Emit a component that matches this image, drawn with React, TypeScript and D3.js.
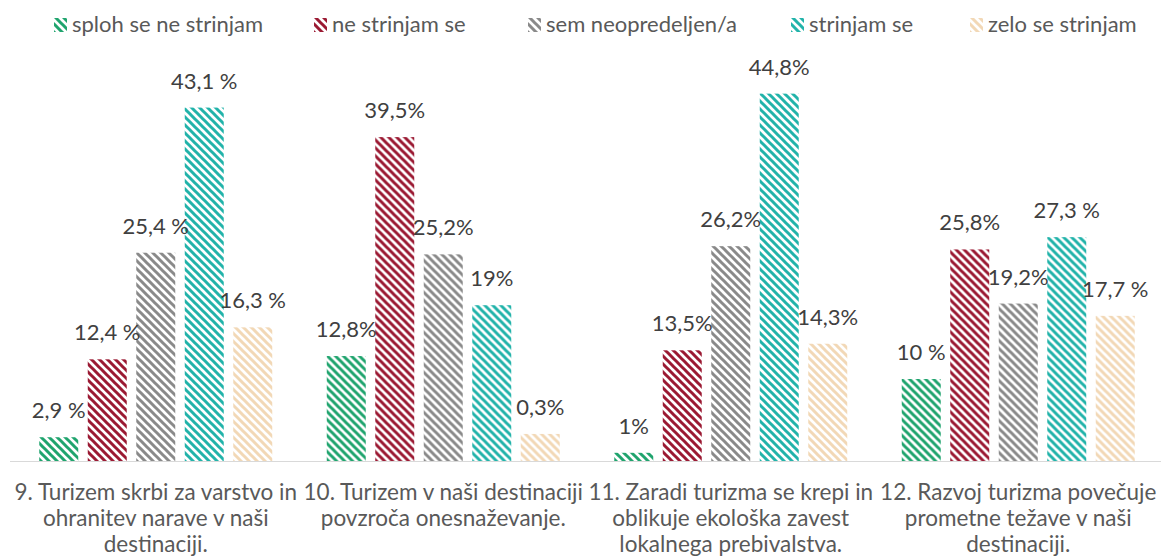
import React from "react";
import * as d3 from "d3";

const seriesNames = ["sploh se ne strinjam", "ne strinjam se", "sem neopredeljen/a", "strinjam se", "zelo se strinjam"];
const seriesColors = ["#20a46e", "#9b1a33", "#8a8a8a", "#22b3aa", "#f2d8b6"];

const categoryLines = [
  ["9. Turizem skrbi za varstvo in", "ohranitev narave v naši", "destinaciji."],
  ["10. Turizem v naši destinaciji", "povzroča onesnaževanje."],
  ["11. Zaradi turizma se krepi in", "oblikuje ekološka zavest", "lokalnega prebivalstva."],
  ["12. Razvoj turizma povečuje", "prometne težave v naši", "destinaciji."],
];

const values = [
  [2.9, 12.4, 25.4, 43.1, 16.3],
  [12.8, 39.5, 25.2, 19, 3.3],
  [1, 13.5, 26.2, 44.8, 14.3],
  [10, 25.8, 19.2, 27.3, 17.7],
];

const valueLabels = [
  ["2,9 %", "12,4 %", "25,4 %", "43,1 %", "16,3 %"],
  ["12,8%", "39,5%", "25,2%", "19%", "0,3%"],
  ["1%", "13,5%", "26,2%", "44,8%", "14,3%"],
  ["10 %", "25,8%", "19,2%", "27,3 %", "17,7 %"],
];

const yDomainMax = 50;

const W = 1161;
const H = 560;
const FONT = "Lato, 'Open Sans', sans-serif";

export default function App() {
  const x0 = d3.scaleBand<number>().domain(d3.range(categoryLines.length)).range([12, 1162]).paddingInner(0).paddingOuter(0);
  const x1 = d3.scaleBand<number>().domain(d3.range(seriesNames.length)).range([0, x0.bandwidth()]).paddingInner(0.196).paddingOuter(0.562);
  const y = d3.scaleLinear().domain([0, yDomainMax]).range([461, 51]);

  const legendX = [54, 314, 528, 791, 970];

  return (
    <svg width={W} height={H} style={{ position: "absolute", left: 0, top: 0, background: "#fff" }} fontFamily={FONT}>
      <defs>
        {seriesColors.map((c, i) => (
          <pattern key={i} id={`pat${i}`} patternUnits="userSpaceOnUse" width={8} height={8}>
            <rect width={8} height={8} fill="#fff" />
            <path d="M-2,-2 L10,10 M-2,6 L2,10 M6,-2 L10,2" stroke={c} strokeWidth={3} />
          </pattern>
        ))}
      </defs>

      {/* legend */}
      {seriesNames.map((s, i) => (
        <g key={s} transform={`translate(${legendX[i]},0)`}>
          <rect x={0} y={18} width={13} height={14} fill={`url(#pat${i})`} />
          <text x={18} y={32} fontSize={22} fill="#595959">{s}</text>
        </g>
      ))}

      {/* bars */}
      {values.map((row, ci) => (
        <g key={ci} transform={`translate(${x0(ci)},0)`}>
          {row.map((v, si) => (
            <rect key={si} x={x1(si)} y={y(v)} width={x1.bandwidth()} height={y(0) - y(v)} fill={`url(#pat${si})`} />
          ))}
          {row.map((v, si) => (
            <text key={"l" + si} x={(x1(si) as number) + x1.bandwidth() / 2} y={y(v) - 19} textAnchor="middle" fontSize={22} fill="#404040">
              {valueLabels[ci][si]}
            </text>
          ))}
        </g>
      ))}

      {/* axis */}
      <line x1={10} x2={1161} y1={461.5} y2={461.5} stroke="#d9d9d9" strokeWidth={1} />

      {/* category labels */}
      {categoryLines.map((lines, ci) => (
        <text key={ci} x={(x0(ci) as number) + x0.bandwidth() / 2} textAnchor="middle" fontSize={22.5} fill="#595959">
          {lines.map((l, li) => (
            <tspan key={li} x={(x0(ci) as number) + x0.bandwidth() / 2} y={500 + li * 26}>{l}</tspan>
          ))}
        </text>
      ))}
    </svg>
  );
}
